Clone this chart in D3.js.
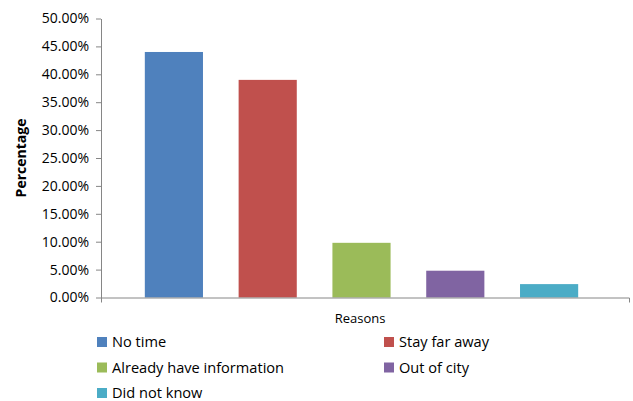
<!DOCTYPE html>
<html>
<head>
<meta charset="utf-8">
<script src="https://cdn.jsdelivr.net/npm/d3@7"></script>
<style>
  body { margin: 0; background: #fff; }
  text { font-family: "Open Sans", sans-serif; fill: #000; }
</style>
</head>
<body>
<div id="chart"></div>
<script>
// data
const category = ["Reasons"];
const reasons = ["No time", "Stay far away", "Already have information", "Out of city", "Did not know"];
const values = [0.44, 0.39, 0.098, 0.048, 0.024];
const yTicks = [0, 0.05, 0.10, 0.15, 0.20, 0.25, 0.30, 0.35, 0.40, 0.45, 0.50];

const colors = ["#4F81BD", "#C0504D", "#9BBB59", "#8064A2", "#4BACC6"];

const width = 633, height = 401;
const margin = { top: 18.5, right: 4, bottom: 103.5, left: 101 };

const svg = d3.select("#chart")
  .append("svg")
  .attr("width", width)
  .attr("height", height);

const yScale = d3.scaleLinear()
  .domain([0, 0.5])
  .range([height - margin.bottom, margin.top]);

const x0 = d3.scaleBand()
  .domain(category)
  .range([margin.left, width - margin.right]);

const x1 = d3.scaleBand()
  .domain(reasons)
  .range([x0("Reasons") + 26, x0("Reasons") + x0.bandwidth() - 33])
  .paddingInner(0.38)
  .paddingOuter(0.19);

// bars
svg.selectAll("rect.bar")
  .data(reasons)
  .enter()
  .append("rect")
  .attr("class", "bar")
  .attr("x", d => x1(d))
  .attr("y", (d, i) => yScale(values[i]))
  .attr("width", x1.bandwidth())
  .attr("height", (d, i) => yScale(0) - yScale(values[i]))
  .attr("fill", (d, i) => colors[i]);

// y axis
const yAxis = svg.append("g")
  .attr("transform", `translate(${margin.left},0)`)
  .call(d3.axisLeft(yScale).tickValues(yTicks).tickFormat(d3.format(".2%")).tickSize(5).tickSizeOuter(0));
yAxis.select(".domain").attr("stroke", "#868686");
yAxis.selectAll(".tick line").attr("stroke", "#868686");
yAxis.selectAll(".tick text")
  .attr("x", -12)
  .style("font-size", "14px")
  .style("font-family", "\"Open Sans\", sans-serif");

// x axis (single category, ticks only at the ends)
const xAxis = svg.append("g")
  .attr("transform", `translate(0,${yScale(0)})`)
  .call(d3.axisBottom(x0).tickSize(0).tickSizeOuter(5));
xAxis.select(".domain").attr("stroke", "#868686");
xAxis.selectAll(".tick text")
  .attr("dx", -5)
  .attr("y", 16)
  .attr("dy", "0.71em")
  .style("font-size", "13px")
  .style("font-family", "\"Open Sans\", sans-serif");

// y title
svg.append("text")
  .attr("transform", `translate(26,${(yScale(0) + yScale(0.5)) / 2}) rotate(-90)`)
  .attr("text-anchor", "middle")
  .style("font-size", "14px")
  .style("font-weight", "bold")
  .text("Percentage");

// legend
const legend = svg.append("g");
const legendItems = legend.selectAll("g")
  .data(reasons)
  .enter()
  .append("g")
  .attr("transform", (d, i) => `translate(${i % 2 === 0 ? 97 : 384},${342 + Math.floor(i / 2) * 25.5})`);

legendItems.append("rect")
  .attr("x", 0)
  .attr("y", -5)
  .attr("width", 10)
  .attr("height", 10)
  .attr("fill", (d, i) => colors[i]);

legendItems.append("text")
  .attr("x", 15)
  .attr("y", 0)
  .attr("dy", "0.35em")
  .style("font-size", "14.6px")
  .text(d => d);
</script>
</body>
</html>
